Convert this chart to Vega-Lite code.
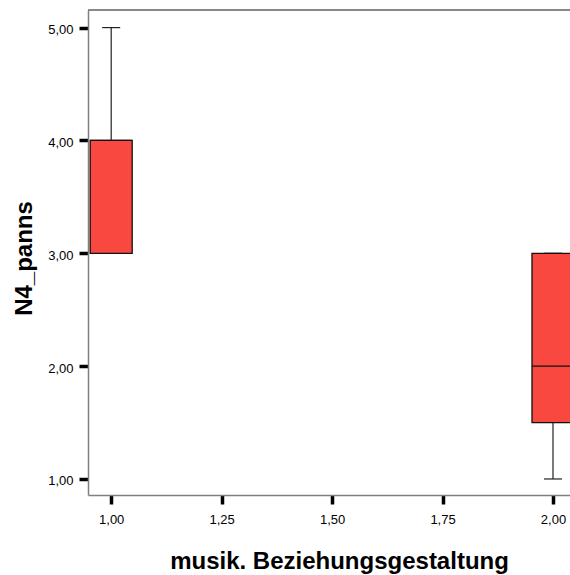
{
  "$schema": "https://vega.github.io/schema/vega-lite/v6.json",
  "width": 482,
  "height": 485,
  "autosize": {"type": "none"},
  "padding": {"left": 88, "top": 10, "right": 0, "bottom": 80},
  "background": "white",
  "config": {"view": {"stroke": null}, "font": "Liberation Sans"},
  "data": {"values": [
    {"group": 1, "min": 3, "q1": 3, "median": 4, "q3": 4, "max": 5},
    {"group": 2, "min": 1, "q1": 1.5, "median": 2, "q3": 3, "max": 3}
  ]},
  "layer": [
    {
      "mark": {"type": "rule", "color": "#222222", "strokeWidth": 1.2, "clip": true},
      "encoding": {
        "x": {
          "field": "group", "type": "quantitative",
          "scale": {"domain": [0.9475, 2.0385], "nice": false, "zero": false, "padding": 0},
          "axis": {
            "values": [1, 1.25, 1.5, 1.75, 2],
            "labelExpr": "replace(format(datum.value, '.2f'), '.', ',')",
            "grid": false,
            "tickSize": 9, "tickWidth": 3.5, "tickColor": "#000000",
            "domainColor": "#808080", "domainWidth": 1.5,
            "labelFont": "Liberation Sans", "labelFontSize": 13, "labelColor": "#000000",
            "labelPadding": 9, "labelFlush": false,
            "title": "musik. Beziehungsgestaltung",
            "titleFont": "Liberation Sans", "titleFontSize": 24, "titleFontWeight": "bold", "titleColor": "#000000",
            "titleX": 251, "titleY": 73, "titleBaseline": "alphabetic", "titleAlign": "center"
          }
        },
        "y": {
          "field": "min", "type": "quantitative",
          "scale": {"domain": [0.858, 5.156], "nice": false, "zero": false, "padding": 0},
          "axis": {
            "values": [1, 2, 3, 4, 5],
            "labelExpr": "replace(format(datum.value, '.2f'), '.', ',')",
            "grid": false,
            "tickSize": 9, "tickWidth": 3.5, "tickColor": "#000000",
            "domainColor": "#808080", "domainWidth": 1.5,
            "labelFont": "Liberation Sans", "labelFontSize": 13, "labelColor": "#000000",
            "labelPadding": 6, "labelOffset": 2, "labelFlush": false,
            "title": "N4_panns",
            "titleFont": "Liberation Sans", "titleFontSize": 24, "titleFontWeight": "bold", "titleColor": "#000000",
            "titleAngle": 270, "titleX": -56.5, "titleY": 248, "titleBaseline": "alphabetic", "titleAlign": "center"
          }
        },
        "y2": {"field": "q1"}
      }
    },
    {
      "mark": {"type": "rule", "color": "#222222", "strokeWidth": 1.2, "clip": true},
      "encoding": {
        "x": {"field": "group", "type": "quantitative"},
        "y": {"field": "q3", "type": "quantitative"},
        "y2": {"field": "max"}
      }
    },
    {
      "mark": {"type": "tick", "orient": "horizontal", "size": 18, "thickness": 1.2, "color": "#222222", "opacity": 1, "clip": true},
      "encoding": {
        "x": {"field": "group", "type": "quantitative"},
        "y": {"field": "max", "type": "quantitative"}
      }
    },
    {
      "mark": {"type": "tick", "orient": "horizontal", "size": 18, "thickness": 1.2, "color": "#222222", "opacity": 1, "clip": true},
      "encoding": {
        "x": {"field": "group", "type": "quantitative"},
        "y": {"field": "min", "type": "quantitative"}
      }
    },
    {
      "mark": {"type": "bar", "width": 42, "fill": "#f84840", "stroke": "#111111", "strokeWidth": 1.3, "opacity": 1, "clip": true},
      "encoding": {
        "x": {"field": "group", "type": "quantitative"},
        "y": {"field": "q1", "type": "quantitative"},
        "y2": {"field": "q3"}
      }
    },
    {
      "mark": {"type": "tick", "orient": "horizontal", "size": 42, "thickness": 1.2, "color": "#111111", "opacity": 1, "clip": true},
      "encoding": {
        "x": {"field": "group", "type": "quantitative"},
        "y": {"field": "median", "type": "quantitative"}
      }
    },
    {
      "mark": {"type": "rule", "color": "#808080", "strokeWidth": 1.5},
      "encoding": {"y": {"datum": 5.156}}
    }
  ]
}
